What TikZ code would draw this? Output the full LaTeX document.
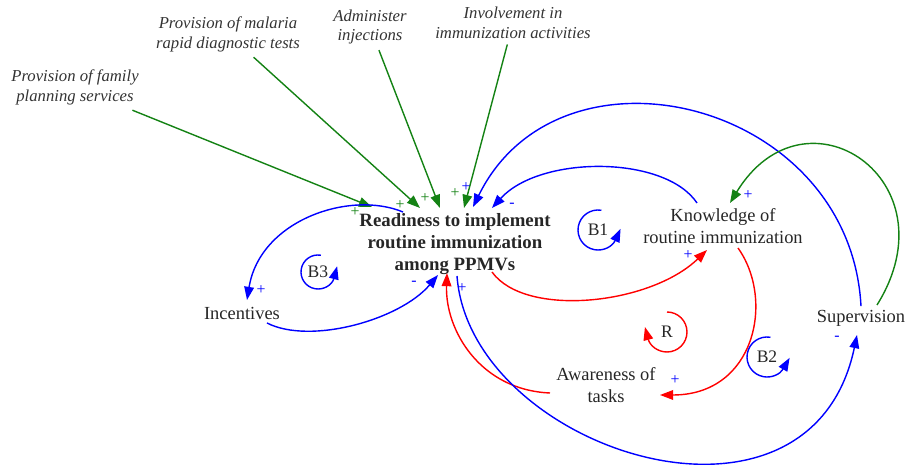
\documentclass[tikz,border=0pt]{standalone}
\usepackage{fontspec}
\setmainfont{Liberation Serif}
\usetikzlibrary{arrows.meta,calc}
\definecolor{lgreen}{RGB}{20,130,20}
\tikzset{
  factor/.style={align=center,text=black!85,font=\fontsize{10.5}{12.5}\selectfont,inner sep=2pt},
  input/.style={align=center,text=black!80,font=\fontsize{9.5}{11.3}\selectfont\itshape,inner sep=3pt},
  sign/.style={font=\fontsize{9}{9}\selectfont,inner sep=0pt},
  lnk/.style={line width=0.8pt,-{Triangle[length=7.5pt,width=5.5pt]}},
  loopmark/.style={text=black!85,font=\fontsize{10}{12}\selectfont,inner sep=0pt},
  looparc/.style={line width=0.8pt,-{Triangle[length=7.5pt,width=5.5pt]},shorten >=-6pt},
}
\begin{document}
\begin{tikzpicture}[x=0.02cm,y=-0.02cm]
\useasboundingbox (0,0) rectangle (907,465);
\node[factor,font=\fontsize{10.7}{12.5}\selectfont\bfseries] (RD) at (455,244) {Readiness to implement\\routine immunization\\among PPMVs};
\node[factor] (KN) at (723,226) {Knowledge of\\routine immunization};
\node[factor] (AW) at (606,385) {Awareness of\\tasks};
\node[factor] (IN) at (242,313) {Incentives};
\node[factor] (SU) at (861,318) {Supervision};
\node[input] (FP) at (75,87) {Provision of family\\planning services};
\node[input] (MR) at (228,34) {Provision of malaria\\rapid diagnostic tests};
\node[input] (AI) at (370,27) {Administer\\injections};
\node[input] (IM) at (513,23) {Involvement in\\immunization activities};
% inputs
\draw[lnk,lgreen] (FP) -- ($(RD)+(-83,-37)$);
\draw[lnk,lgreen] (MR) -- ($(RD)+(-35,-36)$);
\draw[lnk,lgreen] (AI) -- ($(RD)+(-15,-36)$);
\draw[lnk,lgreen] (IM) -- ($(RD)+(9,-36)$);
% feedback links
\draw[lnk,blue] (SU.north) .. controls +(-11,-206) and +(87,-177) .. ($(RD)+(18,-37)$);
\draw[lnk,blue] ($(KN)+(-26,-23)$) .. controls +(-32,-48) and +(48,-53) .. ($(RD)+(37,-36)$);
\draw[lnk,red] ($(RD)+(37,28)$) .. controls +(33,46) and +(-57,55) .. ($(KN)+(-16,24)$);
\draw[lnk,red] ($(KN)+(15,22)$) .. controls +(37,52) and +(95,0) .. ($(AW)+(54,10)$);
\draw[lnk,red] ($(AW)+(-56,8)$) .. controls +(-70,-3) and +(-2,57) .. ($(RD)+(-8,29)$);
\draw[lnk,blue] ($(RD)+(2,32)$) .. controls +(13,174) and +(-47,225) .. ($(SU)+(-4,17)$);
\draw[lnk,blue] ($(IN)+(25,10)$) .. controls +(43,22) and +(-38,45) .. ($(RD)+(-17,31)$);
\draw[lnk,blue] ($(RD)+(-52,-32)$) .. controls +(-53,-22) and +(13,-80) .. ($(IN)+(5,-13)$);
\draw[lnk,lgreen] ($(SU)+(16,-13)$) .. controls +(78,-125) and +(75,-123) .. ($(KN)+(7,-23)$);
% loops
\node[loopmark] (L1) at (598,230) {B1};
\draw[looparc,blue] ($(L1)+(-80:20)$) arc[start angle=-80,end angle=-335,radius=20];
\node[loopmark] (L2) at (767,357) {B2};
\draw[looparc,blue] ($(L2)+(-80:20)$) arc[start angle=-80,end angle=-330,radius=20];
\node[loopmark] (L3) at (318,272) {B3};
\draw[looparc,blue] ($(L3)+(-80:17)$) arc[start angle=-80,end angle=-345,radius=17];
\node[loopmark] (LR) at (667,332) {R};
\draw[looparc,red] ($(LR)+(-90:20)$) arc[start angle=-90,end angle=165,radius=20];
% polarities
\node[sign,text=lgreen] (p1) at (355,212) {+};
\node[sign,text=lgreen] (p2) at (400,205) {+};
\node[sign,text=lgreen] (p3) at (425,198) {+};
\node[sign,text=lgreen] (p4) at (455,193) {+};
\node[sign,text=blue] (p5) at (466,187) {+};
\node[sign,text=blue] (p6) at (512,205) {-};
\node[sign,text=blue] (p7) at (261,290) {+};
\node[sign,text=blue] (p8) at (414,283) {-};
\node[sign,text=blue] (p9) at (462,288) {+};
\node[sign,text=blue] (p10) at (688,255) {+};
\node[sign,text=blue] (p11) at (748,195) {+};
\node[sign,text=blue] (p12) at (675,380) {+};
\node[sign,text=blue] (p13) at (837,338) {-};
\end{tikzpicture}
\end{document}
